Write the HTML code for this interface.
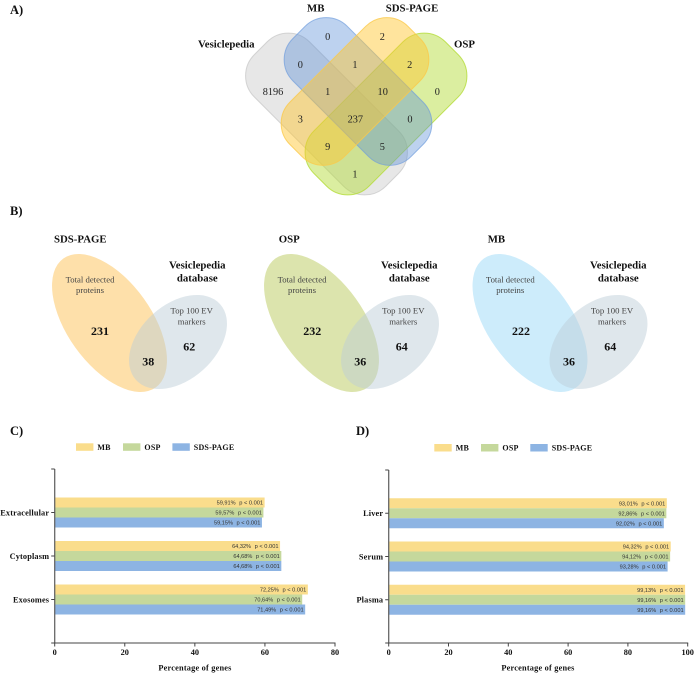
<!DOCTYPE html>
<html lang="en">
<head>
<meta charset="utf-8">
<title>Venn diagrams and enrichment charts</title>
<style>
html,body{margin:0;padding:0;background:#fff;}
svg{display:block;filter:blur(.3px);}
text{font-family:"Liberation Serif",serif;fill:#111;}
.num{font-size:10.3px;text-anchor:middle;dominant-baseline:central;fill:#222;}
.hd{font-size:10.8px;font-weight:bold;}
.ctr{text-anchor:middle;}
.sub{font-size:8.7px;text-anchor:middle;fill:#444;}
.big{font-size:12px;font-weight:bold;text-anchor:middle;}
.panel{font-size:12.5px;font-weight:bold;}
</style>
</head>
<body>
<svg id="fig" xmlns="http://www.w3.org/2000/svg" width="694" height="673" viewBox="0 0 694 673">
<rect width="694" height="673" fill="#fff"/>
<text class="panel" x="10" y="14">A)</text>
<text class="panel" x="10" y="215">B)</text>
<text class="panel" x="10" y="435">C)</text>
<text class="panel" x="356" y="435">D)</text>

<g>
<rect x="233.5" y="75" width="186" height="78" rx="30" transform="rotate(45 326.5 114)" fill="#cfcfcf" fill-opacity=".5" stroke="#c4c4c4" stroke-opacity=".7"/>
<rect x="293" y="75" width="186" height="78" rx="30" transform="rotate(-45 386 114)" fill="#b4dc38" fill-opacity=".48" stroke="#b4dc38" stroke-opacity=".8"/>
<rect x="274.5" y="53" width="167" height="77" rx="30" transform="rotate(45 358 91.5)" fill="#5b8fd8" fill-opacity=".4" stroke="#6f9ddd" stroke-opacity=".7"/>
<rect x="271.5" y="53" width="167" height="77" rx="30" transform="rotate(-45 355 91.5)" fill="#ffc62e" fill-opacity=".47" stroke="#fbc94a" stroke-opacity=".8"/>
</g>
<text class="hd" x="198" y="47.7">Vesiclepedia</text>
<text class="hd" x="307" y="11.7">MB</text>
<text class="hd" x="385.7" y="11.7">SDS-PAGE</text>
<text class="hd" x="454" y="47.7">OSP</text>
<g>
<text class="num" x="327.7" y="37.7">0</text>
<text class="num" x="382.3" y="37.7">2</text>
<text class="num" x="300.3" y="65.3">0</text>
<text class="num" x="355" y="65.3">1</text>
<text class="num" x="409.7" y="65.3">2</text>
<text class="num" x="273" y="92.7">8196</text>
<text class="num" x="327.7" y="92.7">1</text>
<text class="num" x="382.7" y="92.7">10</text>
<text class="num" x="437.3" y="92.7">0</text>
<text class="num" x="300.3" y="120">3</text>
<text class="num" x="355.3" y="120">237</text>
<text class="num" x="410" y="120">0</text>
<text class="num" x="327.7" y="147.7">9</text>
<text class="num" x="382.3" y="147.7">5</text>
<text class="num" x="355" y="175">1</text>
</g>

<g>
<ellipse cx="109.5" cy="323" rx="79.3" ry="42.1" transform="rotate(54.4 109.5 323)" fill="#fee0aa"/>
<ellipse cx="178" cy="342" rx="56.6" ry="37.5" transform="rotate(-42 178 342)" fill="#bccdd8" fill-opacity=".48"/>
<text class="hd" x="54" y="242.7">SDS-PAGE</text>
<text class="hd ctr" x="197.3" y="268.3">Vesiclepedia</text>
<text class="hd ctr" x="197.3" y="281.7">database</text>
<text class="sub" x="90" y="282.3">Total detected</text>
<text class="sub" x="90" y="293">proteins</text>
<text class="sub" x="191.7" y="313.3">Top 100 EV</text>
<text class="sub" x="191.7" y="324.3">markers</text>
<text class="big" x="100" y="335">231</text>
<text class="big" x="189.3" y="350.7">62</text>
<text class="big" x="148.3" y="365.7">38</text>
</g>

<g>
<ellipse cx="321.5" cy="323" rx="79.3" ry="42.1" transform="rotate(54.4 321.5 323)" fill="#dce4ad"/>
<ellipse cx="390" cy="342" rx="56.6" ry="37.5" transform="rotate(-42 390 342)" fill="#bccdd8" fill-opacity=".48"/>
<text class="hd" x="278.7" y="242.7">OSP</text>
<text class="hd ctr" x="409.3" y="268.3">Vesiclepedia</text>
<text class="hd ctr" x="409.3" y="281.7">database</text>
<text class="sub" x="302" y="282.3">Total detected</text>
<text class="sub" x="302" y="293">proteins</text>
<text class="sub" x="403.3" y="313.3">Top 100 EV</text>
<text class="sub" x="403.3" y="324.3">markers</text>
<text class="big" x="312.3" y="335">232</text>
<text class="big" x="401.7" y="350.7">64</text>
<text class="big" x="360.3" y="365.7">36</text>
</g>

<g>
<ellipse cx="530" cy="323" rx="79.3" ry="42.1" transform="rotate(54.4 530 323)" fill="#cdecfb"/>
<ellipse cx="598.5" cy="342" rx="56.6" ry="37.5" transform="rotate(-42 598.5 342)" fill="#bccdd8" fill-opacity=".48"/>
<text class="hd" x="487.7" y="242.7">MB</text>
<text class="hd ctr" x="618.3" y="268.3">Vesiclepedia</text>
<text class="hd ctr" x="618.3" y="281.7">database</text>
<text class="sub" x="510.3" y="282.3">Total detected</text>
<text class="sub" x="510.3" y="293">proteins</text>
<text class="sub" x="612" y="313.3">Top 100 EV</text>
<text class="sub" x="612" y="324.3">markers</text>
<text class="big" x="521" y="335">222</text>
<text class="big" x="610.3" y="350.7">64</text>
<text class="big" x="569" y="365.7">36</text>
</g>
</svg>
<script>
var seriesNames = ['MB', 'OSP', 'SDS-PAGE'];
var seriesColors = ['#fadd8c', '#c5d89c', '#8db4e3'];
var categoriesC = ['Extracellular', 'Cytoplasm', 'Exosomes'];
var mbC = [59.91, 64.32, 72.25];
var ospC = [59.57, 64.68, 70.64];
var sdsC = [59.15, 64.68, 71.49];
var ticksC = [0, 20, 40, 60, 80];
var categoriesD = ['Liver', 'Serum', 'Plasma'];
var mbD = [93.01, 94.32, 99.13];
var ospD = [92.86, 94.12, 99.16];
var sdsD = [92.02, 93.28, 99.16];
var ticksD = [0, 20, 40, 60, 80, 100];
var pLabel = 'p < 0.001';
var axisTitle = 'Percentage of genes';

var svg = document.getElementById('fig');
var NS = 'http://www.w3.org/2000/svg';

function make(tag, parent, props, content) {
  var el = document.createElementNS(NS, tag);
  for (var k in props) el.setAttribute(k, props[k]);
  if (content !== undefined) el.textContent = content;
  parent.appendChild(el);
  return el;
}

function drawChart(cfg) {
  var g = make('g', svg, {});
  
  
  var x = function (v) { return cfg.x0 + (v / cfg.max) * (cfg.x1 - cfg.x0); };
  var band = (cfg.yBottom - cfg.yTop) / (cfg.categories.length + 1);
  var y = function (i) { return cfg.yTop + band * (i + 1); };
  var barH = 10;

  cfg.series.forEach(function (vals, s) {
    vals.forEach(function (v, i) {
      var top = y(i) - 1.5 * barH + s * barH;
      var bar = make('rect', g, { x: cfg.x0, y: top, width: x(v) - cfg.x0, height: barH, fill: seriesColors[s] });
      
      
      var pText = make('text', g, { x: x(v) - 1.5, y: top + 7, 'text-anchor': 'end', 'font-size': 5.7, style: 'font-family:"Liberation Sans",sans-serif;fill:#333' }, pLabel);
      
      
      var valText = make('text', g, { x: x(v) - 29, y: top + 7, 'text-anchor': 'end', 'font-size': 5.6, style: 'font-family:"Liberation Sans",sans-serif;fill:#333' }, v.toFixed(2).replace('.', ',') + '%');
      
      
    });
  });

  var yAxis = make('line', g, { x1: cfg.x0, x2: cfg.x0, y1: cfg.yTop, y2: cfg.yBottom, stroke: '#666', 'stroke-width': 1.3 });
  
  
  var xAxis = make('line', g, { x1: cfg.x0 - 3.5, x2: cfg.x1 + 0.5, y1: cfg.yBottom, y2: cfg.yBottom, stroke: '#444', 'stroke-width': 1 });
  
  
  var topTick = make('line', g, { x1: cfg.x0 - 3.5, x2: cfg.x0, y1: cfg.yTop, y2: cfg.yTop, stroke: '#444', 'stroke-width': 1 });
  
  

  cfg.categories.forEach(function (c, i) {
    var t = make('line', g, { x1: cfg.x0 - 3.5, x2: cfg.x0, y1: y(i), y2: y(i), stroke: '#444', 'stroke-width': 1 });
    
    
    var lab = make('text', g, { x: cfg.x0 - 5.5, y: y(i) + 2.8, 'text-anchor': 'end', 'font-size': 8.3, 'font-weight': 'bold', 'letter-spacing': 0.15 }, c);
    
    
  });

  cfg.ticks.forEach(function (v) {
    var t = make('line', g, { x1: x(v), x2: x(v), y1: cfg.yBottom, y2: cfg.yBottom + 3.5, stroke: '#444', 'stroke-width': 1 });
    
    
    var lab = make('text', g, { x: x(v), y: 655, 'text-anchor': 'middle', 'font-size': 8.3, 'font-weight': 'bold' }, String(v));
    
    
  });

  var title = make('text', g, { x: cfg.titleX, y: 670.5, 'text-anchor': 'middle', 'font-size': 8.3, 'font-weight': 'bold', 'letter-spacing': 0.2 }, axisTitle);
  
  

  seriesNames.forEach(function (n, s) {
    var sw = make('rect', g, { x: cfg.legendX[s], y: cfg.legendY, width: 17.4, height: 7.5, fill: seriesColors[s] });
    
    
    var lt = make('text', g, { x: cfg.legendX[s] + 21.4, y: cfg.legendY + 6.5, 'font-size': 8, 'font-weight': 'bold', 'letter-spacing': 0.2 }, n);
    
    
  });
}

drawChart({ name: 'chart-cellular-component', categories: categoriesC, series: [mbC, ospC, sdsC], ticks: ticksC, max: 80,
  x0: 54.7, x1: 335, yTop: 469, yBottom: 643, titleX: 195, legendX: [76, 123, 172.4], legendY: 443.3 });
drawChart({ name: 'chart-tissue-expression', categories: categoriesD, series: [mbD, ospD, sdsD], ticks: ticksD, max: 100,
  x0: 388.7, x1: 687.7, yTop: 470, yBottom: 643, titleX: 538, legendX: [434.3, 481, 530.3], legendY: 444 });
</script>
</body>
</html>
